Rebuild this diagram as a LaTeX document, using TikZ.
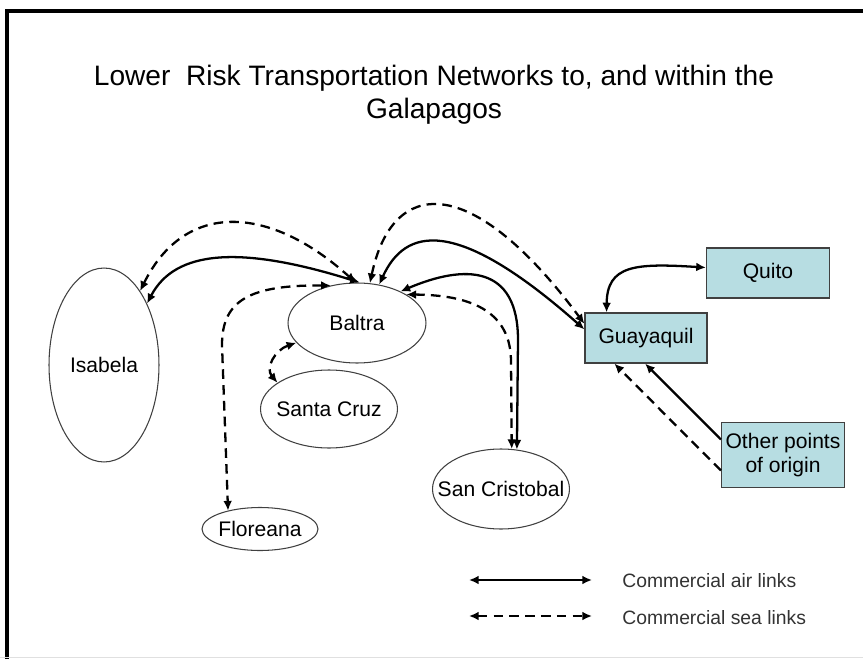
\documentclass[tikz,border=0pt]{standalone}
\usepackage{fontspec}
\setmainfont{Liberation Sans}
\usetikzlibrary{shapes.geometric,arrows.meta}
\definecolor{portblue}{RGB}{183,221,226}
\newcommand{\islandtext}[1]{\makebox[0pt]{#1}}
\begin{document}
\begin{tikzpicture}[x=0.02cm,y=-0.02cm,>={Latex[length=5.5pt,width=5pt]},
    island/.style={ellipse,draw=black!75,line width=0.6pt,inner sep=0pt,font=\fontsize{12}{14}\selectfont},
    port/.style={rectangle,draw=black!75,line width=0.7pt,fill=portblue,inner sep=0pt,align=center,font=\fontsize{12}{14}\selectfont},
    airlink/.style={line width=1.3pt},
    sealink/.style={line width=1.3pt,dash pattern=on 5.5pt off 3.5pt},
    legendtext/.style={anchor=west,inner sep=0pt,text=black!80,font=\fontsize{11}{13}\selectfont}]
    \useasboundingbox (0,0) rectangle (863,659);
    \draw[line width=2.3pt] (7,659) -- (7,11) -- (863,11);
    \draw[black!12,line width=0.6pt] (0,657.5) -- (863,657.5);
    \node[font=\fontsize{16}{19}\selectfont,align=center] (title) at (434,95)
        {Lower\ \ Risk Transportation Networks to, and within the\\Galapagos};
    \node[island,minimum width=2.2cm,minimum height=3.88cm] (isabela) at (104,365) {\islandtext{Isabela}};
    \node[island,minimum width=2.76cm,minimum height=1.6cm] (baltra) at (357,323) {\islandtext{Baltra}};
    \node[island,minimum width=2.74cm,minimum height=1.56cm] (santacruz) at (329,409) {\islandtext{Santa Cruz}};
    \node[island,minimum width=2.32cm,minimum height=0.86cm] (floreana) at (260,529) {\islandtext{Floreana}};
    \node[island,minimum width=2.74cm,minimum height=1.6cm] (sancristobal) at (501,489) {\islandtext{San Cristobal}};
    \node[port,minimum width=2.44cm,minimum height=1cm] (guayaquil) at (646,338) {Guayaquil};
    \node[port,minimum width=2.46cm,minimum height=1cm] (quito) at (768,273) {Quito};
    \node[port,minimum width=2.46cm,minimum height=1.3cm] (origin) at (783,455) {Other points\\of origin};
    \draw[airlink,<->] (isabela.55) .. controls (175,250) and (240,245) .. (baltra.86);
    \draw[sealink,<->] (isabela.64) .. controls (185,200) and (270,205) .. (baltra.92);
    \draw[sealink,<->] (baltra.72) .. controls (392,178) and (470,170) .. (guayaquil.167);
    \draw[airlink,<->] (baltra.60) .. controls (405,228) and (455,215) .. (guayaquil.172);
    \draw[airlink,<->] (baltra.36) .. controls (465,264) and (518,265) .. (518,340) -- (sancristobal.68);
    \draw[sealink,<->] (baltra.30) .. controls (460,295) and (510,305) .. (511,360) -- (sancristobal.75);
    \draw[sealink,<->] (baltra.125) .. controls (250,285) and (222,300) .. (222,345) -- (floreana.150);
    \draw[sealink,<->] (baltra.198) .. controls (275,350) and (265,368) .. (santacruz.153);
    \draw[airlink,<->] (guayaquil.147) .. controls (607,265) and (635,263) .. (quito.175);
    \draw[airlink,->] (origin.166) -- (guayaquil.268);
    \draw[sealink,->] (origin.194) -- (guayaquil.219);
    \coordinate (airA) at (469,580);
    \coordinate (airB) at (592,580);
    \coordinate (seaA) at (469,616);
    \coordinate (seaB) at (592,616);
    \draw[airlink,<->] (airA) -- (airB);
    \draw[sealink,<->] (seaA) -- (seaB);
    \node[legendtext] (airtext) at (622,581) {Commercial air links};
    \node[legendtext] (seatext) at (622,617.5) {Commercial sea links};
\end{tikzpicture}
\end{document}
